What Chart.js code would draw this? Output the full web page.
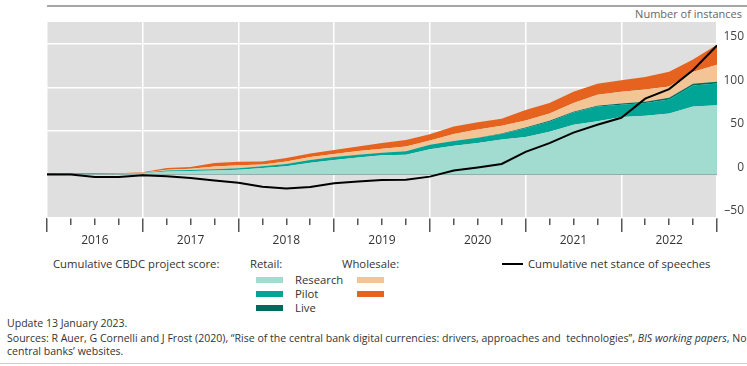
<!DOCTYPE html>
<html>
<head>
<meta charset="utf-8">
<script src="https://cdn.jsdelivr.net/npm/chart.js@4"></script>
<style>
	body { margin: 0; width: 747px; height: 366px; overflow: hidden; background: #fff;
		font-family: "Open Sans", sans-serif; color: #333; position: relative; }
	.abs { position: absolute; white-space: nowrap; line-height: 14px; }
	#wrap { position: absolute; left: 0; top: 0; width: 747px; height: 250px; }
	.sw { position: absolute; width: 27px; height: 6px; }
	.leg { font-size: 11.3px; }
	.foot { font-size: 10.55px; color: #333; }
</style>
</head>
<body>
<div class="abs" style="left:47px; top:5px; width:700px; height:0; border-top:2px solid #a6a6a6;"></div>
<div class="abs" style="right:5px; top:7px; color:#666; font-size:11px;">Number of instances</div>
<div id="wrap"><canvas id="chart"></canvas></div>

<div class="abs leg" style="left:53px; top:257px;">Cumulative CBDC project score:</div>
<div class="abs leg" style="left:250px; top:257px;">Retail:</div>
<div class="abs leg" style="left:342px; top:257px;">Wholesale:</div>
<div id="legendRows"></div>
<div class="abs" style="left:502px; top:263px; width:21px; height:2px; background:#000;"></div>
<div class="abs leg" style="left:528px; top:257px;">Cumulative net stance of speeches</div>

<div class="abs foot" style="left:7px; top:316px;">Update 13 January 2023.</div>
<div class="abs foot" style="left:7px; top:331px;">Sources: R Auer, G Cornelli and J Frost (2020), “Rise of the central bank digital currencies: drivers, approaches and&nbsp; technologies”, <i>BIS working papers</i>, No</div>
<div class="abs foot" style="left:7px; top:344px;">central banks’ websites.</div>
<div class="abs" style="left:0; top:363px; width:747px; height:0; border-top:1px solid #cfcfcf;"></div>

<script>
// quarter ends, in decimal years
var quarters = [2016, 2016.25, 2016.5, 2016.75, 2017, 2017.25, 2017.5, 2017.75, 2018, 2018.25,
	2018.5, 2018.75, 2019, 2019.25, 2019.5, 2019.75, 2020, 2020.25, 2020.5, 2020.75,
	2021, 2021.25, 2021.5, 2021.75, 2022, 2022.25, 2022.5, 2022.75, 2023];

var retailResearch = [0.5, 0.8, 0.8, 1, 1.5, 3.5, 4, 4.5, 5.5, 7.5,
	9.5, 13.5, 16.5, 19.5, 22, 22.5, 29, 33, 36, 40,
	43, 49, 57, 61, 66, 67.5, 70, 78, 79.5];
var retailPilot = [0, 0.2, 0.2, 0.2, 0.3, 1, 1, 1.5, 1.5, 2,
	2.5, 3, 3.5, 3, 3, 4, 5, 5.5, 6, 6.5,
	10, 11.5, 14, 17, 14, 14.5, 16, 24, 25];
var retailLive = [0, 0, 0, 0, 0, 0, 0, 0, 0, 0,
	0, 0, 0, 0, 0, 0, 0, 0, 0, 0.5,
	1, 1, 1, 1, 1.5, 1.5, 2, 2, 2];
var wholesaleResearch = [0, 0, 0, 0, 0.2, 1, 1.5, 3, 3.5, 2,
	3, 3.5, 3.5, 4.5, 4.5, 5.5, 5, 8, 9.5, 9,
	8, 8.5, 10, 12.5, 13.5, 14, 13, 14, 19.5];
var wholesalePilot = [0, 0, 0, 0.3, 0.5, 2, 2, 4, 4, 3.5,
	4, 4, 4.5, 5, 6.5, 7.5, 7, 8.5, 8.5, 8,
	12, 12, 13, 12.5, 13, 14.5, 17, 14, 23];
var speechStance = [0, 0, -3, -3, -1, -2, -4, -7, -9.5, -14,
	-16, -14.5, -10, -8, -6.5, -6, -2.5, 4.5, 8, 12,
	26, 36, 48, 57, 65, 87, 98, 120, 148];

var yearLabels = ["2016", "2017", "2018", "2019", "2020", "2021", "2022"];

var areaNames = ["Research", "Pilot", "Live", "Wholesale research", "Wholesale pilot"];
var areaColors = ["#a2dbd0", "#00a596", "#006b5d", "#f3c596", "#e5621f"];

function points(vals) {
	var out = [];
	for (var i = 0; i < vals.length; i++) {
		out.push({x: quarters[i], y: vals[i]});
	}
	return out;
}

function buildLegend() {
	// retail swatches on the left column, wholesale on the right
	var rows = [
		{c: areaColors[0], l: 256, t: 277, text: "Research"},
		{c: areaColors[1], l: 256, t: 291, text: "Pilot"},
		{c: areaColors[2], l: 256, t: 305, text: "Live"},
		{c: areaColors[3], l: 357, t: 277},
		{c: areaColors[4], l: 357, t: 291}
	];
	var html = "";
	for (var i = 0; i < rows.length; i++) {
		var r = rows[i];
		html += '<div class="sw" style="left:' + r.l + 'px; top:' + r.t + 'px; background:' + r.c + ';"></div>';
		if (r.text) {
			html += '<div class="abs leg" style="left:295px; top:' + (r.t - 4) + 'px;">' + r.text + '</div>';
		}
	}
	document.getElementById("legendRows").innerHTML = html;
}

var plotBg = {
	id: 'plotBg',
	beforeDraw: function(chart) {
		var a = chart.chartArea;
		var ctx = chart.ctx;
		ctx.save();
		ctx.fillStyle = '#dfdfdf';
		ctx.fillRect(a.left, a.top, a.right - a.left, a.bottom - a.top);
		ctx.restore();
	}
};

function isYear(c) {
	return c.tick && Math.abs(c.tick.value % 1) < 1e-6;
}

function drawChart() {
	Chart.defaults.font.family = '"Open Sans", sans-serif';
	var series = [retailResearch, retailPilot, retailLive, wholesaleResearch, wholesalePilot];
	// speech line goes first so it is painted over the areas
	var datasets = [{
		label: 'Cumulative net stance of speeches',
		data: points(speechStance),
		stack: 'speech',
		borderColor: '#000000',
		borderWidth: 2,
		pointRadius: 0,
		fill: false,
		lineTension: 0
	}];
	for (var i = 0; i < series.length; i++) {
		datasets.push({
			label: areaNames[i],
			data: points(series[i]),
			stack: 'score',
			backgroundColor: areaColors[i],
			borderWidth: 0,
			pointRadius: 0,
			fill: i === 0 ? 'origin' : '-1',
			lineTension: 0
		});
	}

	new Chart(document.getElementById("chart"), {
		type: 'line',
		data: { datasets: datasets },
		options: {
			responsive: true,
			maintainAspectRatio: false,
			animation: false,
			layout: { padding: { left: 47, top: 22, right: 3, bottom: 2 } },
			plugins: {
				legend: { display: false },
				tooltip: { enabled: false }
			},
			scales: {
				x: {
					type: 'linear',
					min: 2016,
					max: 2023,
					border: { display: false },
					grid: {
						color: function(c) { return isYear(c) ? '#ffffff' : 'rgba(0,0,0,0)'; },
						lineWidth: 1.5,
						tickColor: '#555555',
						tickWidth: 1.5,
						tickLength: 14,
						tickBorderDash: function(c) { return isYear(c) ? [] : [7, 30]; }
					},
					ticks: {
						stepSize: 0.25,
						autoSkip: false,
						maxRotation: 0,
						padding: 1,
						color: '#333333',
						font: { size: 12 },
						callback: function(v) {
							var f = v - Math.floor(v);
							return Math.abs(f - 0.5) < 1e-6 ? yearLabels[Math.floor(v) - 2016] : '';
						}
					},
					afterFit: function(s) { s.height = 30; }
				},
				y: {
					position: 'right',
					stacked: true,
					min: -50,
					max: 175,
					border: { display: false },
					grid: {
						drawTicks: false,
						color: function(c) { return c.tick && c.tick.value === 0 ? '#808080' : '#ffffff'; },
						lineWidth: function(c) { return c.tick && c.tick.value === 0 ? 2 : 1.5; }
					},
					ticks: {
						stepSize: 50,
						includeBounds: false,
						labelOffset: -7,
						crossAlign: 'far',
						color: '#444444',
						font: { size: 12 },
						callback: function(v) { return String(v).replace('-', '\u2013'); }
					},
					afterFit: function(s) { s.width = 27; }
				}
			}
		},
		plugins: [plotBg]
	});
}

buildLegend();
drawChart();
</script>
</body>
</html>
